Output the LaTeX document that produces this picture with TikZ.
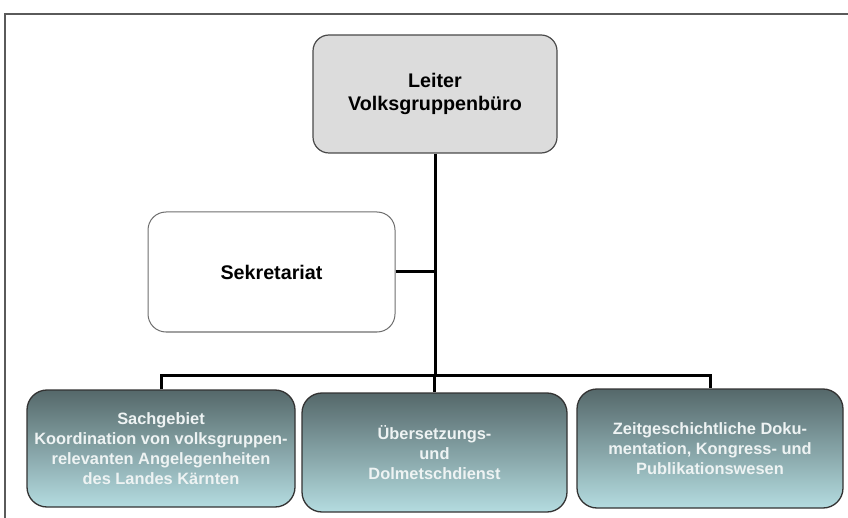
\documentclass[tikz,border=0pt]{standalone}
\usepackage{fontspec}
\setmainfont{Liberation Sans}
\definecolor{framegray}{HTML}{5A5A5A}
\definecolor{boxgray}{HTML}{DCDCDC}
\definecolor{edgegray}{HTML}{4A4A4A}
\definecolor{unittop}{HTML}{55686A}
\definecolor{unitbottom}{HTML}{B4DCE0}
\definecolor{unittext}{HTML}{EEF3F3}
\tikzset{
  headbox/.style={draw=edgegray, line width=1.2pt, fill=boxgray, rounded corners=16pt,
    align=center, font=\bfseries\fontsize{19.7}{23}\selectfont, inner sep=0pt},
  staffbox/.style={draw=edgegray!80, line width=1pt, fill=white, rounded corners=18pt,
    align=center, font=\bfseries\fontsize{19.7}{23}\selectfont, inner sep=0pt},
  unitbox/.style={draw=black!80, line width=1.3pt, top color=unittop, bottom color=unitbottom,
    rounded corners=20pt, align=center, text=unittext,
    font=\bfseries\fontsize{16.4}{20}\selectfont, inner sep=0pt},
  link/.style={draw=black, line width=3pt}
}
\begin{document}
\begin{tikzpicture}[x=1pt, y=-1pt]
\useasboundingbox (0,0) rectangle (848,518);
% page frame
\draw[framegray, line width=1.5pt] (5,518) -- (5,14) -- (848,14);

\node[headbox, minimum width=244pt, minimum height=118pt] (leiter) at (435,94)
  {Leiter\\Volksgruppenbüro};
\node[staffbox, minimum width=247pt, minimum height=120pt] (sek) at (271.5,272)
  {Sekretariat};
\node[unitbox, minimum width=268pt, minimum height=117pt] (u1) at (161,448.5)
  {Sachgebiet\\Koordination von volksgruppen-\\relevanten Angelegenheiten\\des Landes Kärnten};
\node[unitbox, minimum width=265pt, minimum height=119pt] (u2) at (434.5,452.5)
  {Übersetzungs-\\und\\Dolmetschdienst};
\node[unitbox, minimum width=266pt, minimum height=119pt] (u3) at (710,448.5)
  {Zeitgeschichtliche Doku-\\mentation, Kongress- und\\Publikationswesen};

\coordinate (bus) at (leiter.south |- 0,375);
\draw[link] (leiter.south) -- (bus);
\draw[link] (sek.east) -- (sek.east -| bus);
\draw[link] (u1.north) |- (bus) -| (u3.north);
\draw[link] (bus) -- (bus -| u2.north) -- (u2.north);
\end{tikzpicture}
\end{document}
